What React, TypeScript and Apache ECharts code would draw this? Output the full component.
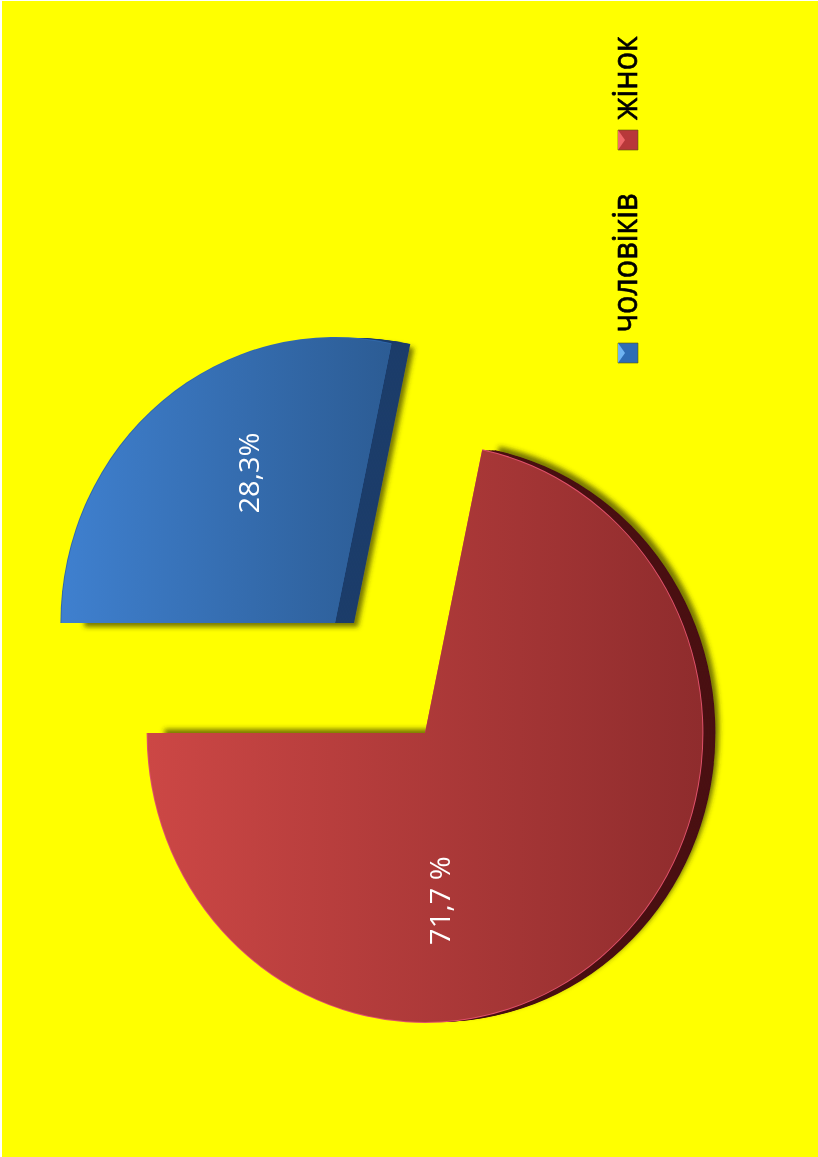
import React, { useEffect, useRef } from "react";
import * as echarts from "echarts";

const categories = ["чоловіків", "жінок"];
const values = [28.3, 71.7];
const labelTexts = ["28,3%", "71,7 %"];

const PAGE_W = 818;
const PAGE_H = 1157;
const SX = 0.96; // the reference's pie is slightly squeezed horizontally
const X = (x: number) => x / SX;

const faces = [
  { cx: 335, cy: 623, r: 285, left: "#3f80cf", right: "#2c5c94", side: "#1c3d6a", rim: "#2f68ad", depth: 19, shOff: [4, 4], labelOff: [37, 1] },
  { cx: 425, cy: 733, r: 289, left: "#cc4745", right: "#8f2c2d", side: "#4a1012", rim: "#e0506a", depth: 13, shOff: [4, -4], labelOff: [-53, -78] },
];

function pie(index: number, dx: number, r: number, color: any, extra: any = {}, label: any = { show: false }) {
  const f = faces[index];
  return {
    type: "pie",
    silent: true,
    clockwise: true,
    startAngle: 180,
    avoidLabelOverlap: false,
    center: [X(f.cx + dx), f.cy],
    radius: [0, r],
    labelLine: { show: false },
    emphasis: { disabled: true },
    data: categories.map((name, i) => ({
      name,
      value: values[i],
      itemStyle: i === index ? { color, borderWidth: 0, ...extra } : { opacity: 0 },
      label: i === index ? label : { show: false },
    })),
  };
}

function buildSeries() {
  const out: any[] = [];
  faces.forEach((f, i) => {
    const steps: number[] = [];
    for (let d = f.depth; d > 0; d -= 1.5) steps.push(d);
    steps.forEach((d, k) => {
      out.push(
        pie(
          i,
          d,
          f.r,
          f.side,
          k === 0
            ? { shadowColor: "rgba(50,50,0,0.65)", shadowBlur: 5, shadowOffsetX: f.shOff[0], shadowOffsetY: f.shOff[1] }
            : {}
        )
      );
    });
    out.push(pie(i, 0, f.r + 1, f.rim));
    out.push(
      pie(
        i,
        0,
        f.r,
        new echarts.graphic.LinearGradient(0, 0, 1, 0, [
          { offset: 0, color: f.left },
          { offset: 1, color: f.right },
        ]),
        {},
        {
          show: true,
          position: "inside",
          rotate: 90,
          formatter: labelTexts[i],
          color: "#ffffff",
          fontFamily: "Open Sans",
          fontSize: 29,
          offset: f.labelOff,
        }
      )
    );
  });
  return out;
}

const legendRows = [
  { y: 353, textY: 263, main: ["#2f6db5", "#3f80cf"], bevel: "#6fb4f2" },
  { y: 140, textY: 78, main: ["#b8383a", "#d04a48"], bevel: "#f0686a" },
];

function buildLegend() {
  const els: any[] = [];
  legendRows.forEach((row, i) => {
    els.push({
      type: "rect",
      silent: true,
      shape: { x: X(618), y: row.y - 10, width: X(20), height: 20 },
      style: { fill: row.main[0], stroke: "rgba(90,90,0,0.6)", lineWidth: 1 },
    });
    els.push({
      type: "polygon",
      silent: true,
      shape: {
        points: [
          [X(618), row.y - 10],
          [X(625), row.y],
          [X(618), row.y + 10],
        ],
      },
      style: { fill: row.bevel },
    });
    els.push({
      type: "text",
      silent: true,
      x: X(624),
      y: row.textY,
      rotation: Math.PI / 2,
      style: {
        text: categories[i],
        fill: "#000000",
        stroke: "#000000",
        lineWidth: 0.7,
        fontFamily: "Open Sans",
        fontSize: 36,
        align: "center",
        verticalAlign: "middle",
      },
      scaleX: 0.85,
    });
  });
  return els;
}

export default function App() {
  const ref = useRef<HTMLDivElement>(null);
  useEffect(() => {
    document.body.style.margin = "0";
    document.body.style.background = "#ffffff";
    const chart = echarts.init(ref.current!, undefined, { renderer: "svg" });
    chart.setOption({
      animation: false,
      backgroundColor: "transparent",
      series: buildSeries(),
      graphic: { elements: buildLegend() },
    });
    return () => chart.dispose();
  }, []);
  return (
    <div style={{ position: "relative", width: PAGE_W, height: PAGE_H, overflow: "hidden" }}>
      <div style={{ position: "absolute", left: 2, top: 1, right: 0, bottom: 0, background: "#ffff00" }} />
      <div
        ref={ref}
        style={{
          position: "absolute",
          left: 0,
          top: 0,
          width: PAGE_W / SX,
          height: PAGE_H,
          transform: `scaleX(${SX})`,
          transformOrigin: "0 0",
        }}
      />
    </div>
  );
}
